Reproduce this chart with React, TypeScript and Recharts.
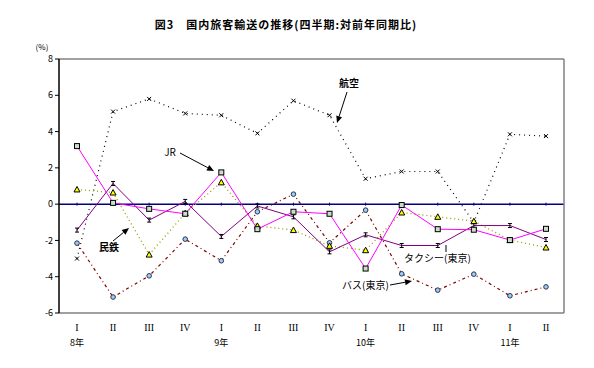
import React from 'react';
import { LineChart, Line, XAxis, YAxis, ReferenceLine } from 'recharts';

const keys = ['8-1','8-2','8-3','8-4','9-1','9-2','9-3','9-4','10-1','10-2','10-3','10-4','11-1','11-2'];
const quarterLabels = ['I','II','III','IV','I','II','III','IV','I','II','III','IV','I','II'];
const yearLabels = ['8年','','','','9年','','','','10年','','','','11年',''];
const yTicks = [-6, -4, -2, 0, 2, 4, 6, 8];

const air = [-3.0, 5.1, 5.8, 5.0, 4.9, 3.9, 5.7, 4.9, 1.4, 1.8, 1.8, -1.0, 3.85, 3.75];
const jr = [3.2, 0.07, -0.26, -0.53, 1.75, -1.38, -0.42, -0.53, -3.55, -0.05, -1.38, -1.41, -1.98, -1.36];
const mintetsu = [0.81, 0.64, -2.78, -0.5, 1.2, -1.2, -1.43, -2.3, -2.54, -0.46, -0.7, -0.94, -1.98, -2.39];
const taxi = [-1.43, 1.14, -0.88, 0.15, -1.78, -0.1, -0.7, -2.63, -1.69, -2.28, -2.28, -1.18, -1.18, -1.95];
const bus = [-2.15, -5.12, -3.95, -1.93, -3.12, -0.42, 0.55, -2.13, -0.33, -3.84, -4.74, -3.86, -5.05, -4.56];
const zero = keys.map(() => 0);

const data = keys.map((k, i) => ({
  key: k,
  air: air[i],
  jr: jr[i],
  mintetsu: mintetsu[i],
  taxi: taxi[i],
  bus: bus[i],
  zero: zero[i],
}));

const FONT = '"Noto Sans CJK JP", "Noto Sans", sans-serif';

const CrossDot = (p: any) => {
  const { cx, cy } = p;
  if (cx == null || cy == null) return null;
  const s = 2;
  return (
    <g>
      <line x1={cx - s} y1={cy - s} x2={cx + s} y2={cy + s} stroke="#000" strokeWidth={1} />
      <line x1={cx - s} y1={cy + s} x2={cx + s} y2={cy - s} stroke="#000" strokeWidth={1} />
    </g>
  );
};

const SquareDot = (p: any) => {
  const { cx, cy } = p;
  if (cx == null || cy == null) return null;
  return <rect x={cx - 2.5} y={cy - 2.5} width={5} height={5} fill="#c8e0c8" stroke="#000" strokeWidth={1} />;
};

const TriDot = (p: any) => {
  const { cx, cy } = p;
  if (cx == null || cy == null) return null;
  return (
    <polygon
      points={`${cx},${cy - 3} ${cx - 3},${cy + 2.5} ${cx + 3},${cy + 2.5}`}
      fill="#ffff00"
      stroke="#000"
      strokeWidth={1}
    />
  );
};

const BarDot = (p: any) => {
  const { cx, cy } = p;
  if (cx == null || cy == null) return null;
  return (
    <g stroke="#000" strokeWidth={1}>
      <line x1={cx - 2} y1={cy - 2} x2={cx + 2} y2={cy - 2} />
      <line x1={cx} y1={cy - 2} x2={cx} y2={cy + 2} />
      <line x1={cx - 2} y1={cy + 2} x2={cx + 2} y2={cy + 2} />
    </g>
  );
};

const CircleDot = (p: any) => {
  const { cx, cy } = p;
  if (cx == null || cy == null) return null;
  return <circle cx={cx} cy={cy} r={2.3} fill="#99ccff" stroke="#334" strokeWidth={1} />;
};

const ZeroDot = (p: any) => {
  const { cx, cy } = p;
  if (cx == null || cy == null) return null;
  return <line x1={cx} y1={cy - 1.5} x2={cx} y2={cy + 1.5} stroke="#000080" strokeWidth={1} />;
};

const XTick = (p: any) => {
  const { x, y, index } = p;
  return (
    <g>
      <text x={x} y={y + 10} textAnchor="middle" fontFamily='"Liberation Serif", serif' fontSize={10} fill="#000">
        {quarterLabels[index]}
      </text>
      <text x={x} y={y + 25} textAnchor="middle" fontFamily={FONT} fontSize={9} fill="#000">
        {yearLabels[index]}
      </text>
    </g>
  );
};

const Arrow = ({ x1, y1, x2, y2 }: { x1: number; y1: number; x2: number; y2: number }) => {
  const a = Math.atan2(y2 - y1, x2 - x1);
  const L = 7;
  const W = 3;
  const bx = x2 - L * Math.cos(a);
  const by = y2 - L * Math.sin(a);
  const px = -Math.sin(a) * W;
  const py = Math.cos(a) * W;
  return (
    <g>
      <line x1={x1} y1={y1} x2={bx} y2={by} stroke="#000" strokeWidth={1} />
      <polygon points={`${x2},${y2} ${bx + px},${by + py} ${bx - px},${by - py}`} fill="#000" />
    </g>
  );
};

export default function App() {
  return (
    <div style={{ position: 'absolute', left: 0, top: 0, width: 594, height: 368, background: '#fff' }}>
      <LineChart
        width={594}
        height={368}
        data={data}
        margin={{ top: 59, right: 25, bottom: 15, left: 29 }}
      >
        <XAxis
          dataKey="key"
          interval={0}
          padding={{ left: 18, right: 18 }}
          height={40}
          axisLine={{ stroke: '#808080', strokeWidth: 1.5 }}
          tickLine={false}
          tick={<XTick />}
        />
        <YAxis
          yAxisId="left"
          domain={[-6, 8]}
          ticks={yTicks}
          width={30}
          allowDataOverflow
          axisLine={{ stroke: '#000', strokeWidth: 1.5 }}
          tickLine={{ stroke: '#000' }}
          tickSize={4}
          tick={{ fontSize: 9, fill: '#000', fontFamily: FONT }}
        />
        <YAxis
          yAxisId="right"
          orientation="right"
          domain={[-6, 8]}
          width={5}
          tick={false}
          tickLine={false}
          axisLine={{ stroke: '#808080', strokeWidth: 1.5 }}
        />
        <ReferenceLine yAxisId="left" y={8} stroke="#808080" strokeWidth={1.5} />
        <ReferenceLine yAxisId="left" y={0} stroke="#000080" strokeWidth={1.5} />
        <Line yAxisId="left" dataKey="zero" stroke="none" dot={<ZeroDot />} isAnimationActive={false} />
        <Line
          yAxisId="left"
          dataKey="bus"
          stroke="#800000"
          strokeWidth={1.2}
          strokeDasharray="3 3 1 3"
          dot={<CircleDot />}
          isAnimationActive={false}
        />
        <Line
          yAxisId="left"
          dataKey="air"
          stroke="#000"
          strokeWidth={1.2}
          strokeDasharray="1 4"
          dot={<CrossDot />}
          isAnimationActive={false}
        />
        <Line
          yAxisId="left"
          dataKey="mintetsu"
          stroke="#999900"
          strokeWidth={1.3}
          strokeDasharray="1 3"
          dot={<TriDot />}
          isAnimationActive={false}
        />
        <Line
          yAxisId="left"
          dataKey="taxi"
          stroke="#800080"
          strokeWidth={1}
          dot={<BarDot />}
          isAnimationActive={false}
        />
        <Line
          yAxisId="left"
          dataKey="jr"
          stroke="#ff00ff"
          strokeWidth={1}
          dot={<SquareDot />}
          isAnimationActive={false}
        />
      </LineChart>
      <svg
        width={594}
        height={368}
        style={{ position: 'absolute', left: 0, top: 0, pointerEvents: 'none' }}
      >
        <text x={286} y={29} textAnchor="middle" fontFamily={FONT} fontSize={11} fontWeight="bold" letterSpacing={1} fill="#000">
          図3　国内旅客輸送の推移(四半期:対前年同期比)
        </text>
        <text x={42} y={50} textAnchor="middle" fontFamily={FONT} fontSize={8} fill="#000">(%)</text>
        <text x={349} y={87} textAnchor="middle" fontFamily={FONT} fontSize={10} fontWeight="bold" fill="#000">航空</text>
        <Arrow x1={347} y1={92} x2={337} y2={123} />
        <text x={170} y={156} textAnchor="middle" fontFamily={FONT} fontSize={10} fill="#000">JR</text>
        <Arrow x1={180} y1={153} x2={214} y2={171} />
        <text x={109} y={251} textAnchor="middle" fontFamily={FONT} fontSize={10} fontWeight="bold" fill="#000">民鉄</text>
        <Arrow x1={113} y1={241} x2={129} y2={228} />
        <text x={404} y={262} fontFamily={FONT} fontSize={10} fill="#000">タクシー(東京)</text>
        <line x1={446} y1={252} x2={446} y2={245} stroke="#000" strokeWidth={1} />
        <text x={342} y={289} fontFamily={FONT} fontSize={10} fill="#000">バス(東京)</text>
        <Arrow x1={390} y1={285} x2={412} y2={281} />
      </svg>
    </div>
  );
}
